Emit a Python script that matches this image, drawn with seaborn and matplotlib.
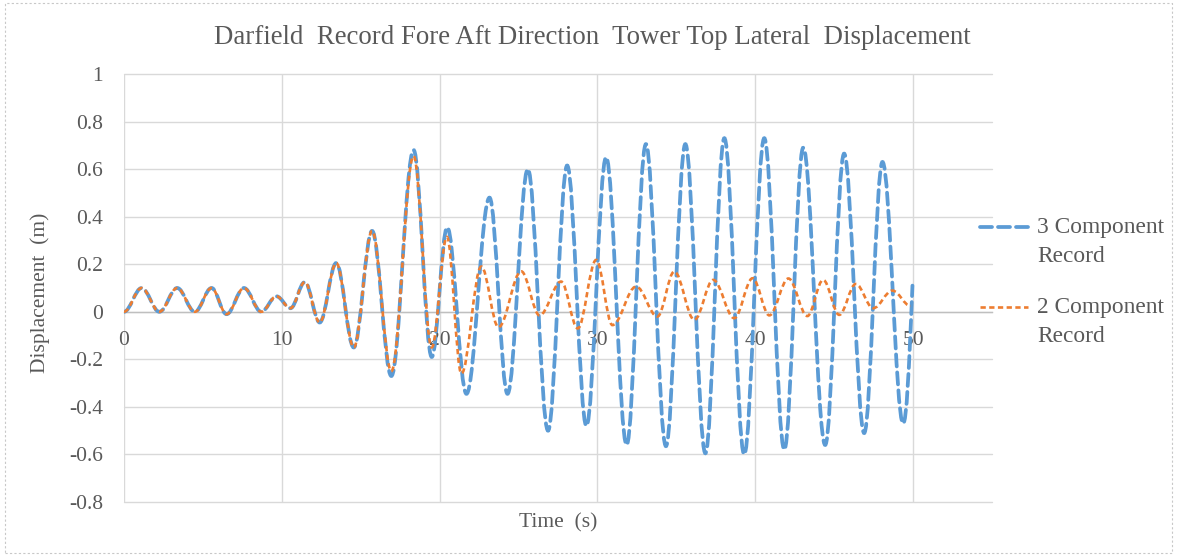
import numpy as np
import matplotlib
matplotlib.use("Agg")
import matplotlib.pyplot as plt
from matplotlib.path import Path
from matplotlib.patches import PathPatch, Rectangle
from matplotlib.lines import Line2D
import seaborn as sns

# ---- data (turning points of each record) ----
t_three = [0.00, 1.12, 2.24, 3.37, 4.49, 5.55, 6.50, 7.60, 8.70, 9.66, 10.55, 11.46,
           12.40, 13.45, 14.56, 15.72, 16.94, 18.35, 19.50, 20.48, 21.70, 23.16,
           24.30, 25.59, 26.87, 28.08, 29.30, 30.55, 31.85, 33.07, 34.34, 35.57,
           36.84, 38.04, 39.30, 40.57, 41.84, 43.04, 44.43, 45.63, 46.90, 48.06,
           49.37, 49.96]
v_three = [0.00, 0.10, 0.00, 0.10, 0.00, 0.10, -0.01, 0.10, 0.00, 0.065, 0.015, 0.125,
           -0.045, 0.205, -0.15, 0.34, -0.27, 0.68, -0.19, 0.355, -0.345, 0.48,
           -0.345, 0.60, -0.50, 0.615, -0.48, 0.65, -0.56, 0.705, -0.565, 0.705,
           -0.595, 0.73, -0.60, 0.73, -0.58, 0.69, -0.56, 0.665, -0.51, 0.63,
           -0.47, 0.11]

t_two = [0.00, 1.12, 2.24, 3.37, 4.49, 5.55, 6.50, 7.60, 8.70, 9.66, 10.55, 11.46,
         12.40, 13.45, 14.56, 15.72, 16.94, 18.35, 19.50, 20.46, 21.38, 22.64,
         23.73, 25.17, 26.33, 27.70, 28.75, 29.92, 30.95, 32.45, 33.80, 34.87,
         36.14, 37.34, 38.67, 39.83, 40.89, 42.10, 43.30, 44.30, 45.32, 46.37,
         47.47, 48.69, 49.85]
v_two = [0.00, 0.10, 0.00, 0.10, 0.00, 0.10, -0.01, 0.10, 0.00, 0.065, 0.015, 0.125,
         -0.045, 0.205, -0.15, 0.34, -0.25, 0.655, -0.15, 0.315, -0.26, 0.19,
         -0.065, 0.17, -0.015, 0.127, -0.07, 0.218, -0.056, 0.106, -0.02, 0.169,
         -0.034, 0.134, -0.027, 0.141, -0.015, 0.14, -0.018, 0.134, -0.013, 0.117,
         0.015, 0.089, 0.024]

series_labels = ["3 Component\nRecord", "2 Component\nRecord"]
x_ticks = [0, 10, 20, 30, 40, 50]
y_ticks = [-0.8, -0.6, -0.4, -0.2, 0, 0.2, 0.4, 0.6, 0.8, 1]
y_tick_labels = ["-0.8", "-0.6", "-0.4", "-0.2", "0", "0.2", "0.4", "0.6", "0.8", "1"]

title = "Darfield  Record Fore Aft Direction  Tower Top Lateral  Displacement"
x_title = "Time  (s)"
y_title = "Displacement  (m)"

BLUE = "#5B9BD5"
ORANGE = "#ED7D31"
TXT = "#595959"
GRID = "#D9D9D9"

sns.set_theme(style="white")
plt.rcParams["font.family"] = ["Liberation Serif", "DejaVu Serif"]

W, H = 1180, 557
fig = plt.figure(figsize=(W / 100, H / 100), dpi=100)
fig.patch.set_facecolor("white")
ax = fig.add_axes([124 / W, 1 - 502 / H, 868 / W, 428 / H])
ax.set_facecolor("white")
ax.set_xlim(0, 55)
ax.set_ylim(-0.8, 1.0)
ax.set_xticks(x_ticks)
ax.set_xticklabels([str(v) for v in x_ticks])
ax.set_yticks(y_ticks)
ax.set_yticklabels(y_tick_labels)
ax.grid(True, color=GRID, linewidth=1.0, zorder=0)
ax.set_axisbelow(True)
for gl in ax.get_xgridlines() + ax.get_ygridlines():
    gl.set_clip_on(False)
for s in ["top", "right", "left"]:
    ax.spines[s].set_visible(False)
ax.spines["bottom"].set_position(("data", 0))
ax.spines["bottom"].set_color("#BFBFBF")
ax.spines["bottom"].set_linewidth(1.0)
ax.tick_params(axis="x", length=0, pad=14, labelsize=15.5, labelcolor=TXT)
ax.tick_params(axis="y", length=0, pad=15, labelsize=15.5, labelcolor=TXT)


def smooth_path(ts, vs, end_mid=False, k=0.363):
    verts = [(ts[0], vs[0])]
    codes = [Path.MOVETO]
    n = len(ts)
    for i in range(n - 1):
        t0, v0, t1, v1 = ts[i], vs[i], ts[i + 1], vs[i + 1]
        dt = t1 - t0
        c2v = v1
        if end_mid and i == n - 2:
            c2v = v1 - (v1 - v0) * 0.6
        verts += [(t0 + k * dt, v0), (t1 - k * dt, c2v), (t1, v1)]
        codes += [Path.CURVE4] * 3
    return Path(verts, codes)


blue_style = dict(linewidth=2.7, linestyle=(0, (3.2, 1.6)))
orange_style = dict(linewidth=1.9, linestyle=(0, (2.0, 1.3)))

ax.add_patch(PathPatch(smooth_path(t_three, v_three, end_mid=True), fill=False,
                       edgecolor=BLUE, capstyle="round", zorder=3, **blue_style))
ax.add_patch(PathPatch(smooth_path(t_two, v_two), fill=False,
                       edgecolor=ORANGE, capstyle="butt", zorder=4, **orange_style))

# titles
fig.text(592 / W, 1 - 44.5 / H, title, ha="center", va="baseline",
         fontsize=19.4, color=TXT)
fig.text(558 / W, 1 - 527 / H, x_title, ha="center", va="baseline",
         fontsize=15.5, color=TXT)
fig.text(40 / W, 1 - 293 / H, y_title, ha="center", va="center", rotation=90,
         fontsize=15.5, color=TXT)

# legend (manual, first text line level with the sample line)
leg_styles = [dict(color=BLUE, dash_capstyle="round", **blue_style),
              dict(color=ORANGE, **orange_style)]
leg_y = [227, 307]
for lab, sty, yy in zip(series_labels, leg_styles, leg_y):
    fig.add_artist(Line2D([980 / W, 1028 / W], [1 - yy / H, 1 - yy / H],
                          transform=fig.transFigure, **sty))
    fig.text(1037 / W, 1 - (yy + 35.5) / H, lab, ha="left", va="baseline",
             fontsize=16.8, color=TXT, linespacing=1.5)

# chart border
fig.add_artist(Rectangle((5 / W, 1 - 553 / H), 1167 / W, 550 / H,
                         transform=fig.transFigure, fill=False,
                         edgecolor="#C8C8C8", linewidth=0.8,
                         linestyle=(0, (2, 2))))

fig.savefig("out.png", dpi=100, facecolor="white")
